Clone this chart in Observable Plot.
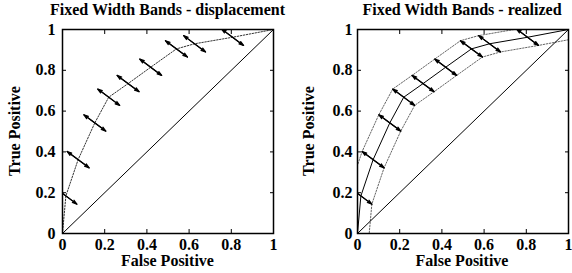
<!DOCTYPE html>
<html><head><meta charset="utf-8">
<script src="https://cdn.jsdelivr.net/npm/d3@7"></script>
<script src="https://cdn.jsdelivr.net/npm/@observablehq/plot@0.6"></script>
<style>
body{margin:0;background:#fff;}
#wrap{position:relative;width:572px;height:273px;font-family:"Liberation Serif","Times New Roman",serif;font-weight:bold;color:#000;overflow:hidden;}
#wrap svg, #wrap svg text, #wrap svg g{font-family:"Liberation Serif","Times New Roman",serif !important;font-weight:bold !important;font-size:16px;}
.lbl{position:absolute;font-size:16px;line-height:16px;white-space:nowrap;transform:translateX(-50%);}
.ylbl{position:absolute;font-size:16px;line-height:16px;white-space:nowrap;transform:translate(-50%,-50%) rotate(-90deg);}
.panel{position:absolute;top:0;}
</style></head><body><div id="wrap"></div>
<script>
// ROC curve (false positive rate, true positive rate)
const rocFP = [0, 0.016, 0.074, 0.153, 0.219, 0.311, 0.418, 0.540, 0.626, 0.806, 1];
const rocTP = [0, 0.184, 0.362, 0.542, 0.668, 0.735, 0.815, 0.905, 0.930, 0.962, 1];
// upper band
const upperFP = [-0.052, -0.036, 0.022, 0.101, 0.167, 0.259, 0.366, 0.488, 0.574, 0.754, 0.948];
const upperTP = [0.040, 0.224, 0.402, 0.582, 0.708, 0.775, 0.855, 0.945, 0.970, 1.002, 1.040];
// lower band
const lowerFP = [0.052, 0.068, 0.126, 0.205, 0.271, 0.363, 0.470, 0.592, 0.678, 0.858, 1.052];
const lowerTP = [-0.040, 0.144, 0.322, 0.502, 0.628, 0.695, 0.775, 0.865, 0.890, 0.922, 0.960];
// chance diagonal
const diagFP = [0, 1];
const diagTP = [0, 1];
// ticks
const tickValues = [0, 0.2, 0.4, 0.6, 0.8, 1];
const tickLabels = ["0", "0.2", "0.4", "0.6", "0.8", "1"];
const titles = ["Fixed Width Bands - displacement", "Fixed Width Bands - realized"];
const xLabel = "False Positive";
const yLabel = "True Positive";

const toRows = (xs, ys) => xs.map((x, i) => ({x, y: ys[i]}));
const roc = toRows(rocFP, rocTP);
const upper = toRows(upperFP, upperTP);
const lower = toRows(lowerFP, lowerTP);
const diag = toRows(diagFP, diagTP);
const arrows = upper.slice(1, 10).map((u, i) => ({x1: u.x, y1: u.y, x2: lower[i + 1].x, y2: lower[i + 1].y}));
const fmt = d => tickLabels[tickValues.indexOf(d)];

function makePanel(realized, cfg) {
  const marks = [];
  if (realized) {
    marks.push(Plot.line(upper, {x: "x", y: "y", stroke: "#666", strokeWidth: 1, strokeDasharray: "1.5,1.5", clip: true}));
    marks.push(Plot.line(lower, {x: "x", y: "y", stroke: "#666", strokeWidth: 1, strokeDasharray: "1.5,1.5", clip: true}));
    marks.push(Plot.line(roc, {x: "x", y: "y", stroke: "#000", strokeWidth: 1, clip: true}));
  } else {
    marks.push(Plot.line(roc, {x: "x", y: "y", stroke: "#333", strokeWidth: 1, strokeDasharray: "1.5,1.5", clip: true}));
  }
  marks.push(Plot.line(diag, {x: "x", y: "y", stroke: "#000", strokeWidth: 1}));
  marks.push(Plot.arrow(arrows, {x1: "x1", y1: "y1", x2: "x2", y2: "y2", stroke: "#000", fill: "#000", strokeWidth: 1.2, headLength: 6, headAngle: 35, clip: true}));
  marks.push(Plot.arrow(arrows, {x1: "x2", y1: "y2", x2: "x1", y2: "y1", stroke: "#000", fill: "#000", strokeWidth: 1.2, headLength: 6, headAngle: 35, clip: true}));
  marks.push(Plot.axisX(tickValues, {anchor: "bottom", tickSize: -4, tickPadding: 9, tickFormat: fmt, label: null}));
  marks.push(Plot.axisX(tickValues, {anchor: "top", tickSize: -4, tickFormat: () => "", label: null}));
  marks.push(Plot.axisY(tickValues, {anchor: "left", tickSize: -4, tickPadding: cfg.yPad, tickFormat: fmt, label: null}));
  marks.push(Plot.axisY(tickValues, {anchor: "right", tickSize: -4, tickFormat: () => "", label: null}));
  marks.push(Plot.frame({stroke: "#000", strokeWidth: 1.5}));
  return Plot.plot({
    width: cfg.width,
    height: 273,
    marginTop: 29,
    marginBottom: 40,
    marginLeft: cfg.ml,
    marginRight: cfg.mr,
    x: {domain: [0, 1]},
    y: {domain: [0, 1]},
    style: {fontFamily: "Liberation Serif", fontWeight: "bold", fontSize: "16px", background: "transparent", color: "#000", overflow: "visible"},
    marks
  });
}

const wrap = document.getElementById("wrap");
const panels = [
  {left: 0, width: 286, ml: 62, mr: 13, yPad: 11, title: titles[0], cx: 167.5, ylx: 14.5, realized: false},
  {left: 286, width: 286, ml: 71, mr: 4, yPad: 9, title: titles[1], cx: 462, ylx: 308.8, realized: true}
];
for (const p of panels) {
  const div = document.createElement("div");
  div.className = "panel";
  div.style.left = p.left + "px";
  div.appendChild(makePanel(p.realized, p));
  wrap.appendChild(div);
  const t = document.createElement("div");
  t.className = "lbl"; t.textContent = p.title;
  t.style.left = p.cx + "px"; t.style.top = "2px";
  wrap.appendChild(t);
  const xl = document.createElement("div");
  xl.className = "lbl"; xl.textContent = xLabel;
  xl.style.left = p.cx + "px"; xl.style.top = "253px";
  wrap.appendChild(xl);
  const yl = document.createElement("div");
  yl.className = "ylbl"; yl.textContent = yLabel;
  yl.style.left = p.ylx + "px"; yl.style.top = "131px";
  wrap.appendChild(yl);
}
</script></body></html>
